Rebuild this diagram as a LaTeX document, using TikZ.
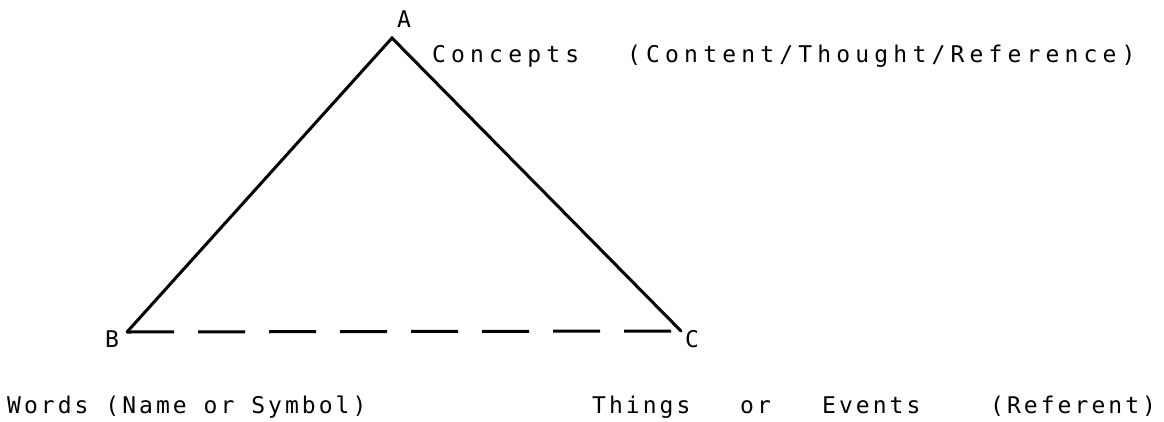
\documentclass[tikz,border=0pt]{standalone}
\usepackage{fontspec}
\newfontfamily\plotfont[LetterSpace=22.5]{DejaVu Sans Mono}
\newfontfamily\plotfontb[LetterSpace=13.2]{DejaVu Sans Mono}
\begin{document}
\begin{tikzpicture}[x=1pt,y=-1pt,
  lbl/.style={inner sep=0pt, anchor=base west, font=\plotfont\fontsize{23}{23}\selectfont},
  lblb/.style={inner sep=0pt, anchor=base west, font=\plotfontb\fontsize{23}{23}\selectfont},
  edge/.style={line width=3pt, line cap=round},
  dashedge/.style={line width=3pt, dash pattern=on 47pt off 24pt}]
\useasboundingbox (0,0) rectangle (1164,421);
\coordinate (A) at (392,38);
\coordinate (B) at (127,332);
\coordinate (C) at (681,331);
\draw[edge] (B) -- (A) -- (C);
\draw[dashedge] (B) -- (C);
\node[lbl] (la) at (397,27) {A};
\node[lbl] (lb) at (105,347) {B};
\node[lbl] (lc) at (685,347) {C};
\node[lbl] (concepts) at (432,62) {Concepts};
\node[lbl] (content) at (627,62) {(Content/Thought/Reference)};
\node[lblb] (words) at (7,413) {Words (Name or Symbol)};
\node[lblb] (things) at (592,413) {Things};
\node[lblb] (or) at (740,413) {or};
\node[lblb] (events) at (822,413) {Events};
\node[lblb] (referent) at (990,413) {(Referent)};
\end{tikzpicture}
\end{document}
